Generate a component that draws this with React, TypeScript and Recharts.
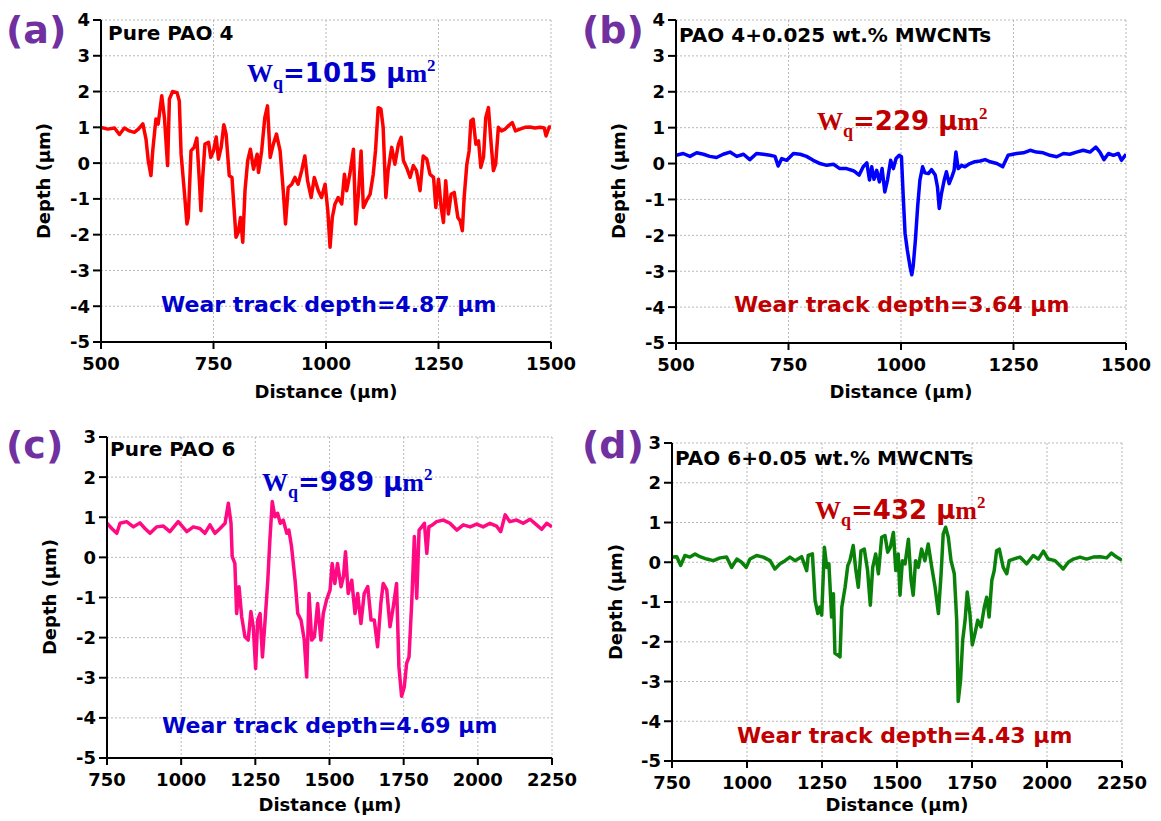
import { LineChart, Line, XAxis, YAxis, CartesianGrid } from "recharts";

// (a) Pure PAO 4
const distA = [500, 515, 530, 541, 552, 563, 574, 583, 593, 600, 605, 611, 615, 622, 627, 635, 641, 648, 652, 659, 669, 674, 678, 685, 691, 694, 700, 707, 713, 719, 722, 726, 731, 739, 744, 750, 756, 761, 767, 773, 778, 785, 791, 796, 800, 805, 810, 815, 820, 826, 832, 839, 847, 850, 857, 864, 870, 876, 883, 890, 898, 905, 910, 916, 924, 931, 938, 946, 953, 959, 967, 974, 983, 990, 998, 1004, 1009, 1014, 1020, 1027, 1035, 1041, 1046, 1053, 1061, 1066, 1072, 1078, 1083, 1090, 1098, 1105, 1110, 1116, 1122, 1127, 1133, 1138, 1146, 1153, 1161, 1167, 1172, 1179, 1187, 1194, 1201, 1209, 1216, 1224, 1231, 1239, 1244, 1250, 1256, 1261, 1266, 1272, 1278, 1285, 1293, 1298, 1303, 1307, 1313, 1318, 1322, 1327, 1333, 1339, 1344, 1350, 1355, 1361, 1367, 1372, 1377, 1383, 1390, 1398, 1405, 1414, 1421, 1431, 1442, 1453, 1464, 1476, 1485, 1489, 1496, 1500];
const depthA = [1.0, 0.95, 0.98, 0.8, 0.98, 0.9, 0.86, 0.95, 1.1, 0.67, 0.07, -0.35, 0.35, 1.23, 1.09, 1.88, 1.27, -0.07, 1.79, 2.0, 1.97, 1.74, 0.25, -0.77, -1.7, -1.52, 0.34, 0.44, 0.7, -0.59, -1.33, -0.4, 0.53, 0.58, 0.16, 0.34, 0.73, 0.11, 0.44, 1.07, 0.81, -0.35, -0.4, -1.33, -2.07, -1.93, -1.52, -2.21, -0.77, 0.07, 0.39, -0.17, 0.25, -0.26, 0.34, 1.27, 1.6, 0.16, 0.53, 0.81, 0.34, -0.77, -1.7, -0.68, -0.59, -0.4, -0.59, -0.21, 0.2, -0.49, -0.96, -0.4, -0.77, -0.96, -0.59, -1.33, -2.35, -1.52, -1.14, -0.96, -1.14, -0.31, -0.77, -0.31, 0.39, -1.7, -0.87, 0.34, -1.24, -1.05, -0.87, -0.31, 0.34, 1.55, 1.51, 1.0, -0.96, -0.21, 0.44, -0.03, 0.53, 0.72, 0.07, -0.12, -0.4, -0.07, -0.21, -0.77, 0.2, 0.11, -0.31, -0.4, -1.24, -0.45, -1.24, -1.66, -0.49, -1.42, -0.87, -0.82, -1.52, -1.61, -1.89, -0.96, -0.03, 0.34, 1.18, 1.23, 0.53, 0.62, -0.12, 0.16, 1.27, 1.55, 0.53, -0.21, -0.03, 1.0, 0.9, 0.95, 1.04, 1.13, 0.9, 0.95, 1.0, 1.01, 0.98, 1.0, 0.98, 0.76, 1.01, 1.0];

// (b) PAO 4 + 0.025 wt.% MWCNTs
const distB = [500, 516, 531, 546, 561, 575, 590, 605, 620, 635, 650, 664, 679, 694, 709, 720, 727, 735, 746, 761, 776, 790, 805, 820, 835, 850, 864, 879, 894, 898, 907, 916, 924, 930, 935, 940, 946, 952, 958, 964, 970, 977, 983, 989, 996, 1001, 1005, 1009, 1014, 1020, 1024, 1027, 1032, 1037, 1042, 1048, 1053, 1061, 1068, 1076, 1081, 1085, 1090, 1096, 1101, 1107, 1113, 1118, 1122, 1127, 1135, 1142, 1153, 1164, 1176, 1187, 1198, 1213, 1226, 1238, 1257, 1272, 1287, 1301, 1316, 1331, 1346, 1361, 1375, 1390, 1405, 1420, 1433, 1442, 1451, 1461, 1472, 1483, 1490, 1500];
const depthB = [0.23, 0.28, 0.2, 0.3, 0.26, 0.2, 0.17, 0.26, 0.32, 0.2, 0.26, 0.11, 0.28, 0.26, 0.23, 0.2, -0.07, 0.14, 0.09, 0.28, 0.26, 0.2, 0.09, 0.0, -0.05, -0.02, -0.14, -0.14, -0.2, -0.23, -0.32, -0.09, 0.02, -0.46, -0.09, -0.44, -0.19, -0.51, -0.14, -0.79, -0.46, 0.09, -0.14, 0.14, 0.23, 0.19, -0.93, -1.94, -2.41, -2.87, -3.1, -2.87, -2.13, -1.2, -0.46, -0.09, -0.26, -0.28, -0.17, -0.32, -0.65, -1.25, -0.83, -0.46, -0.23, -0.56, -0.37, -0.19, 0.32, -0.14, -0.05, -0.09, 0.0, 0.05, 0.07, 0.11, 0.05, 0.0, -0.09, 0.23, 0.28, 0.3, 0.37, 0.32, 0.3, 0.23, 0.19, 0.28, 0.26, 0.32, 0.37, 0.32, 0.46, 0.32, 0.11, 0.28, 0.23, 0.28, 0.09, 0.26];

// (c) Pure PAO 6
const distC = [750, 766, 783, 794, 816, 839, 861, 878, 895, 917, 940, 962, 990, 1019, 1041, 1063, 1080, 1097, 1114, 1131, 1148, 1159, 1168, 1172, 1181, 1187, 1195, 1204, 1215, 1226, 1235, 1243, 1251, 1258, 1266, 1274, 1283, 1292, 1299, 1307, 1316, 1325, 1334, 1344, 1356, 1363, 1372, 1384, 1393, 1404, 1415, 1423, 1431, 1440, 1449, 1460, 1471, 1479, 1490, 1502, 1509, 1518, 1527, 1539, 1547, 1554, 1563, 1575, 1586, 1595, 1606, 1617, 1629, 1640, 1651, 1662, 1673, 1681, 1693, 1704, 1715, 1726, 1734, 1743, 1752, 1760, 1768, 1777, 1786, 1794, 1802, 1811, 1820, 1828, 1835, 1845, 1861, 1884, 1906, 1929, 1951, 1974, 1996, 2018, 2041, 2063, 2077, 2092, 2108, 2131, 2153, 2176, 2198, 2215, 2232, 2250];
const depthC = [0.85, 0.72, 0.6, 0.85, 0.89, 0.76, 0.86, 0.72, 0.6, 0.76, 0.78, 0.64, 0.89, 0.64, 0.76, 0.72, 0.6, 0.81, 0.6, 0.72, 0.85, 1.35, 0.85, 0.02, -0.15, -1.4, -0.73, -1.48, -1.98, -2.06, -1.35, -1.73, -2.77, -1.56, -1.4, -2.48, -1.56, -0.57, 0.43, 1.39, 1.01, 1.1, 0.85, 0.93, 0.6, 0.68, 0.27, -0.57, -1.4, -1.56, -2.06, -2.98, -0.9, -2.06, -1.98, -1.15, -2.06, -1.4, -1.06, -0.81, -0.15, -0.65, -0.15, -0.73, -0.48, 0.14, -0.9, -0.57, -1.4, -0.9, -1.65, -0.9, -0.73, -1.56, -1.56, -2.23, -1.15, -0.65, -0.81, -1.73, -1.23, -0.65, -2.73, -3.46, -3.23, -2.64, -2.48, -1.15, 0.52, -1.02, 0.68, 0.76, 0.85, 0.1, 0.76, 0.8, 0.89, 0.93, 0.85, 0.68, 0.81, 0.76, 0.83, 0.76, 0.85, 0.78, 0.64, 1.06, 0.89, 0.93, 0.85, 0.95, 0.81, 0.7, 0.85, 0.76];

// (d) PAO 6 + 0.05 wt.% MWCNTs
const distD = [750, 766, 779, 793, 810, 827, 843, 866, 888, 910, 932, 949, 966, 982, 997, 1010, 1032, 1054, 1077, 1093, 1110, 1127, 1143, 1160, 1182, 1199, 1204, 1218, 1227, 1236, 1243, 1249, 1258, 1266, 1273, 1282, 1288, 1293, 1302, 1310, 1316, 1327, 1336, 1343, 1354, 1363, 1371, 1380, 1391, 1402, 1411, 1419, 1429, 1438, 1449, 1460, 1469, 1478, 1488, 1496, 1504, 1510, 1518, 1527, 1538, 1547, 1554, 1562, 1571, 1582, 1593, 1604, 1616, 1627, 1638, 1647, 1654, 1662, 1671, 1680, 1691, 1699, 1704, 1712, 1719, 1727, 1734, 1743, 1751, 1760, 1769, 1780, 1791, 1799, 1807, 1816, 1824, 1832, 1841, 1854, 1866, 1874, 1888, 1910, 1932, 1954, 1971, 1988, 2004, 2027, 2043, 2054, 2071, 2088, 2110, 2132, 2154, 2177, 2199, 2215, 2232, 2250];
const depthD = [0.13, 0.14, -0.08, 0.17, 0.13, 0.21, 0.14, 0.08, 0.04, 0.11, 0.13, -0.13, 0.08, 0.0, -0.13, 0.08, 0.17, 0.13, 0.04, -0.17, -0.04, 0.04, 0.13, 0.04, 0.14, -0.21, 0.17, 0.21, -0.96, -1.29, -1.13, -1.33, 0.38, -0.13, -0.04, -1.38, -0.79, -2.29, -2.33, -2.38, -1.13, -0.63, -0.08, 0.04, 0.42, -0.21, -0.63, 0.29, 0.33, -0.21, -1.08, -0.13, 0.21, -0.29, 0.63, 0.67, 0.25, 0.38, 0.75, -0.21, 0.21, -0.83, 0.04, -0.04, 0.58, -0.46, -0.83, 0.04, -0.13, 0.33, 0.04, 0.46, -0.13, -0.63, -1.29, -0.29, 0.71, 0.88, 0.63, 0.04, -0.29, -1.46, -3.5, -2.96, -1.96, -1.46, -0.75, -1.29, -2.08, -1.79, -1.46, -1.63, -1.13, -0.88, -1.38, -0.46, -0.21, 0.29, 0.33, -0.13, -0.29, 0.04, 0.08, 0.13, -0.04, 0.17, 0.08, 0.28, 0.08, 0.04, -0.08, -0.17, 0.0, 0.08, 0.13, 0.08, 0.13, 0.14, 0.11, 0.23, 0.13, 0.05];

const distTicksTop = [500, 750, 1000, 1250, 1500];
const distTicksBottom = [750, 1000, 1250, 1500, 1750, 2000, 2250];
const depthTicksTop = [-5, -4, -3, -2, -1, 0, 1, 2, 3, 4];
const depthTicksBottom = [-5, -4, -3, -2, -1, 0, 1, 2, 3];

const SANS = "'DejaVu Sans', Verdana, sans-serif";
const SERIF = "'Liberation Serif', 'DejaVu Serif', serif";
const BLUE = "#0000cc";
const DARKRED = "#c00000";
const PURPLE = "#7030a0";

function toRows(dist: number[], depth: number[]) {
  return dist.map((d, i) => ({ d, v: depth[i] }));
}

interface PanelProps {
  dist: number[];
  depth: number[];
  color: string;
  xTicks: number[];
  yTicks: number[];
  left: number;
  top: number;
  plotW: number;
  plotH: number;
}

const tickStyle = { fill: "#000", fontSize: 18, fontWeight: 700, fontFamily: SANS };
const axisStyle = { stroke: "#000", strokeWidth: 2 };

function Panel({ dist, depth, color, xTicks, yTicks, left, top, plotW, plotH }: PanelProps) {
  const yw = 100;
  const padTop = 15;
  const padRight = 40;
  const xh = 60;
  return (
    <div style={{ position: "absolute", left: left - yw, top: top - padTop }}>
      <LineChart
        width={yw + plotW + padRight}
        height={padTop + plotH + xh}
        data={toRows(dist, depth)}
        margin={{ top: padTop, right: padRight, bottom: 0, left: 0 }}
      >
        <CartesianGrid stroke="#b8b8b8" strokeDasharray="2 2" />
        <XAxis
          dataKey="d"
          type="number"
          domain={[xTicks[0], xTicks[xTicks.length - 1]]}
          ticks={xTicks}
          interval={0}
          allowDataOverflow
          height={xh}
          tickSize={7}
          tickMargin={8}
          tick={tickStyle}
          tickLine={axisStyle}
          axisLine={axisStyle}
        />
        <YAxis
          type="number"
          domain={[yTicks[0], yTicks[yTicks.length - 1]]}
          ticks={yTicks}
          interval={0}
          allowDataOverflow
          width={yw}
          tickSize={8}
          tickMargin={3}
          tick={tickStyle}
          tickLine={axisStyle}
          axisLine={axisStyle}
        />
        <XAxis
          xAxisId="top"
          orientation="top"
          type="number"
          domain={[0, 1]}
          height={0}
          tick={false}
          tickLine={false}
          axisLine={axisStyle}
        />
        <YAxis
          yAxisId="right"
          orientation="right"
          type="number"
          domain={[0, 1]}
          width={0}
          tick={false}
          tickLine={false}
          axisLine={axisStyle}
        />
        <Line
          type="linear"
          dataKey="v"
          stroke={color}
          strokeWidth={3.5}
          strokeLinejoin="round"
          dot={false}
          isAnimationActive={false}
        />
      </LineChart>
    </div>
  );
}

function Wq({ x, y, value, color }: { x: number; y: number; value: string; color: string }) {
  return (
    <text x={x} y={y} fill={color} fontSize={26} fontWeight={700}>
      <tspan fontFamily={SERIF}>W</tspan>
      <tspan fontFamily={SERIF} fontSize={18} dy={7}>q</tspan>
      <tspan fontFamily={SANS} dy={-7}>={value} μ</tspan>
      <tspan fontFamily={SERIF}>m</tspan>
      <tspan fontFamily={SERIF} fontSize={17} dy={-11}>2</tspan>
    </text>
  );
}

function Wear({ x, y, value, color }: { x: number; y: number; value: string; color: string }) {
  return (
    <text x={x} y={y} fill={color} fontSize={22} fontWeight={700} fontFamily={SANS}>
      Wear track depth={value} μm
    </text>
  );
}

function Title({ x, y, children }: { x: number; y: number; children: string }) {
  return (
    <text x={x} y={y} fill="#000" fontSize={20} fontWeight={700} fontFamily={SANS}>
      {children}
    </text>
  );
}

function AxisTitles({ yx, yy, xx, xy }: { yx: number; yy: number; xx: number; xy: number }) {
  return (
    <g fontSize={18} fontWeight={700} fontFamily={SANS} fill="#000">
      <text x={yx} y={yy} textAnchor="middle" transform={`rotate(-90 ${yx} ${yy})`}>
        Depth (μm)
      </text>
      <text x={xx} y={xy} textAnchor="middle">
        Distance (μm)
      </text>
    </g>
  );
}

export default function App() {
  return (
    <div style={{ position: "absolute", left: 0, top: 0, width: 1161, height: 821, background: "#fff" }}>
      <Panel dist={distA} depth={depthA} color="#ff0000" xTicks={distTicksTop} yTicks={depthTicksTop} left={101} top={20} plotW={450} plotH={322} />
      <Panel dist={distB} depth={depthB} color="#0000ff" xTicks={distTicksTop} yTicks={depthTicksTop} left={676} top={20} plotW={450} plotH={323} />
      <Panel dist={distC} depth={depthC} color="#ff0a82" xTicks={distTicksBottom} yTicks={depthTicksBottom} left={107} top={437} plotW={445} plotH={321} />
      <Panel dist={distD} depth={depthD} color="#0a820a" xTicks={distTicksBottom} yTicks={depthTicksBottom} left={672} top={443} plotW={450} plotH={318} />
      <svg
        width={1161}
        height={821}
        style={{ position: "absolute", left: 0, top: 0, pointerEvents: "none" }}
      >
        <g fill={PURPLE} fontSize={38} fontWeight={700} fontFamily={SANS}>
          <text x={6} y={43}>(a)</text>
          <text x={582} y={43}>(b)</text>
          <text x={6} y={458}>(c)</text>
          <text x={582} y={458}>(d)</text>
        </g>
        <AxisTitles yx={50} yy={181} xx={326} xy={398} />
        <AxisTitles yx={625} yy={181} xx={901} xy={398} />
        <AxisTitles yx={56} yy={597} xx={330} xy={811} />
        <AxisTitles yx={622} yy={602} xx={897} xy={811} />

        <Title x={108} y={40}>Pure PAO 4</Title>
        <Wq x={247} y={82} value="1015" color={BLUE} />
        <Wear x={161} y={312} value="4.87" color={BLUE} />

        <Title x={679} y={42}>PAO 4+0.025 wt.% MWCNTs</Title>
        <Wq x={817} y={130} value="229" color={DARKRED} />
        <Wear x={734} y={312} value="3.64" color={DARKRED} />

        <Title x={110} y={456}>Pure PAO 6</Title>
        <Wq x={262} y={491} value="989" color={BLUE} />
        <Wear x={162} y={733} value="4.69" color={BLUE} />

        <Title x={675} y={465}>PAO 6+0.05 wt.% MWCNTs</Title>
        <Wq x={815} y={519} value="432" color={DARKRED} />
        <Wear x={737} y={743} value="4.43" color={DARKRED} />
      </svg>
    </div>
  );
}
